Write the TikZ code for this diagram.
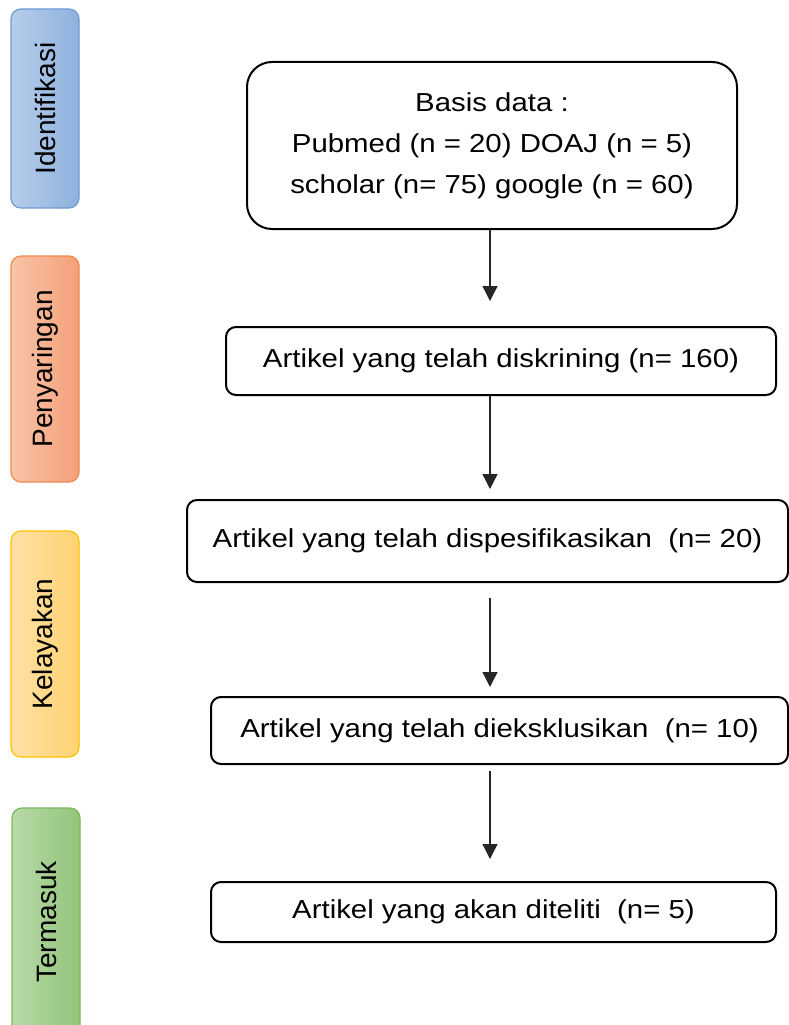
\documentclass[tikz,border=0pt]{standalone}
\usepackage{fontspec}
\setmainfont{Liberation Sans}
\newfontfamily\lebar{Liberation Sans}[FakeStretch=1.13]
\usetikzlibrary{arrows.meta}

\definecolor{biruA}{HTML}{B7CDEA}
\definecolor{biruB}{HTML}{8EB1DE}
\definecolor{biruG}{HTML}{6C9BD2}
\definecolor{oranyeA}{HTML}{F8C4A8}
\definecolor{oranyeB}{HTML}{F4A079}
\definecolor{oranyeG}{HTML}{F0894E}
\definecolor{kuningA}{HTML}{FFE0A6}
\definecolor{kuningB}{HTML}{FFD372}
\definecolor{kuningG}{HTML}{FFC000}
\definecolor{hijauA}{HTML}{B9D9A9}
\definecolor{hijauB}{HTML}{92C57A}
\definecolor{hijauG}{HTML}{7AB85A}

\tikzset{
    fase/.style={minimum width=68pt, rounded corners=10pt, line width=1.2pt,
        inner sep=0pt, font=\fontsize{28}{32}\selectfont},
    kotak/.style={draw, line width=2pt, rounded corners=10pt, align=center,
        inner sep=0pt, font=\lebar\fontsize{26}{41}\selectfont},
    panah/.style={draw=black!85, line width=1.3pt, -{Triangle[width=15pt,length=15pt]}}
}

\begin{document}
\begin{tikzpicture}[x=1pt, y=-1pt]
    \useasboundingbox (0,0) rectangle (789,1025);
    \clip (0,0) rectangle (789,1025);
    % fase di kiri
    \node[fase, minimum height=199pt, left color=biruA, right color=biruB, draw=biruG]
        (identifikasi) at (45,108.5) {\rotatebox{90}{Identifikasi}};
    \node[fase, minimum height=226pt, left color=oranyeA, right color=oranyeB, draw=oranyeG]
        (penyaringan) at (45,369) {\rotatebox{90}{Penyaringan}};
    \node[fase, minimum height=226pt, left color=kuningA, right color=kuningB, draw=kuningG]
        (kelayakan) at (45,644) {\rotatebox{90}{Kelayakan}};
    \node[fase, minimum height=228pt, left color=hijauA, right color=hijauB, draw=hijauG]
        (termasuk) at (46,922) {\rotatebox{90}{Termasuk}};
    % alur artikel
    \node[kotak, rounded corners=25pt, minimum width=490pt, minimum height=167pt]
        (basis) at (492,145.5) {Basis data :\\Pubmed (n = 20) DOAJ (n = 5)\\scholar (n= 75) google (n = 60)};
    \node[kotak, minimum width=550pt, minimum height=68pt]
        (skrining) at (501,361) {Artikel yang telah diskrining (n= 160)};
    \node[kotak, minimum width=601pt, minimum height=82pt]
        (spesifik) at (487.5,541) {Artikel yang telah dispesifikasikan~ (n= 20)};
    \node[kotak, minimum width=577pt, minimum height=67pt]
        (eksklusi) at (499.5,730.5) {Artikel yang telah dieksklusikan~ (n= 10)};
    \node[kotak, minimum width=565pt, minimum height=60pt]
        (diteliti) at (493.5,912) {Artikel yang akan diteliti~ (n= 5)};
    \coordinate (kolom) at (490,0);
    \draw[panah, shorten >=25pt] (basis.south -| kolom) -- (skrining.north -| kolom);
    \draw[panah, shorten >=10pt] (skrining.south -| kolom) -- (spesifik.north -| kolom);
    \draw[panah, shorten <=15pt, shorten >=9pt] (spesifik.south -| kolom) -- (eksklusi.north -| kolom);
    \draw[panah, shorten <=6pt, shorten >=22pt] (eksklusi.south -| kolom) -- (diteliti.north -| kolom);
\end{tikzpicture}
\end{document}
